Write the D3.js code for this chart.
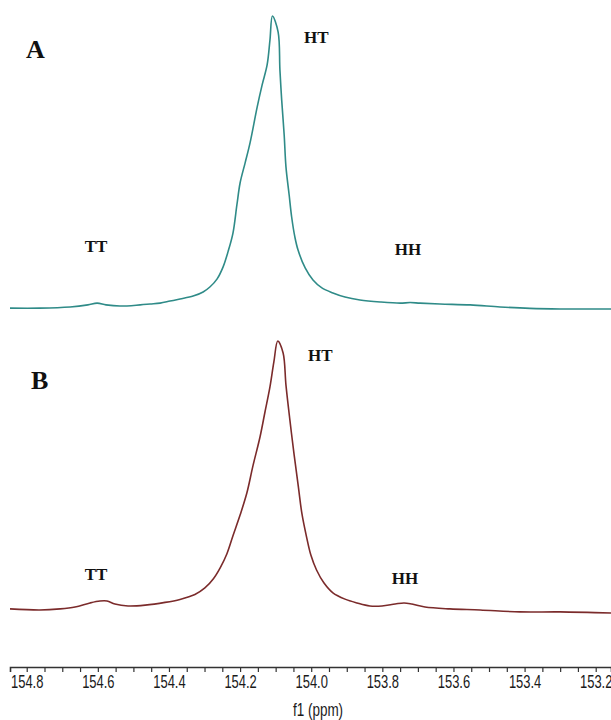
<!DOCTYPE html>
<html>
<head>
<meta charset="utf-8">
<script src="https://cdn.jsdelivr.net/npm/d3@7"></script>
<style>
  body { margin: 0; background: #fff; }
  .tag { font-family: "Liberation Serif", "Times New Roman", serif; font-weight: bold; fill: #111; }
  .axis text { font-family: "Liberation Sans", Arial, sans-serif; fill: #1a1a1a; }
</style>
</head>
<body>
<div id="chart"></div>
<script>
// spectrum A (teal) - chemical shift (ppm) and relative intensity
var ppmA = [154.847, 154.763, 154.678, 154.628, 154.602, 154.577, 154.538, 154.481, 154.453, 154.425,
  154.397, 154.369, 154.332, 154.304, 154.285, 154.265, 154.248, 154.234, 154.220, 154.209,
  154.200, 154.186, 154.172, 154.152, 154.138, 154.124, 154.116, 154.109, 154.093, 154.088,
  154.083, 154.076, 154.071, 154.062, 154.055, 154.046, 154.037, 154.017, 153.995, 153.970,
  153.939, 153.905, 153.863, 153.806, 153.750, 153.722, 153.694, 153.638, 153.553, 153.469,
  153.385, 153.300, 153.157]
var intA = [0.3, 0.3, 0.7, 1.4, 2.0, 1.4, 1.0, 1.4, 1.7, 2.0,
  2.7, 3.4, 4.4, 5.8, 7.5, 10.2, 14.3, 19.5, 25.9, 35.5,
  43.0, 49.8, 56.7, 68.9, 76.5, 83.3, 91.8, 100, 94.5, 81.6,
  71.3, 59.4, 48.5, 38.9, 31.4, 24.6, 20.1, 14.0, 9.9, 7.2,
  5.5, 4.1, 3.1, 2.4, 2.0, 2.2, 2.0, 1.7, 1.4, 0.7,
  0.2, 0, 0]

// spectrum B (dark red)
var ppmB = [154.847, 154.763, 154.706, 154.664, 154.622, 154.594, 154.574, 154.552, 154.515, 154.467,
  154.411, 154.369, 154.327, 154.299, 154.275, 154.256, 154.237, 154.220, 154.200, 154.181,
  154.164, 154.144, 154.130, 154.116, 154.105, 154.094, 154.079, 154.071, 154.060, 154.048,
  154.036, 154.026, 154.013, 154.001, 153.985, 153.964, 153.939, 153.905, 153.871, 153.835,
  153.801, 153.764, 153.739, 153.717, 153.680, 153.610, 153.525, 153.413, 153.300, 153.157]
var intB = [1.5, 1.1, 1.5, 2.2, 3.7, 4.4, 4.4, 3.3, 2.6, 2.9,
  3.9, 5.0, 6.8, 9.2, 12.6, 16.6, 21.8, 28.4, 36.0, 44.1,
  54.0, 64.7, 73.9, 83.1, 92.3, 100, 95.6, 83.8, 71.0, 58.1,
  46.3, 36.4, 27.9, 21.3, 15.8, 11.0, 7.4, 5.1, 3.7, 2.6,
  2.6, 3.3, 3.7, 3.3, 2.2, 1.5, 1.1, 0.4, 0.4, 0]

var tickValues = d3.range(0, 33).map(i => +(153.2 + i * 0.05).toFixed(2))
var labelTicks = [154.8, 154.6, 154.4, 154.2, 154.0, 153.8, 153.6, 153.4, 153.2]

var svg_width = 611
var svg_height = 720

var svg = d3.select("#chart")
  .append("svg")
  .attr("width", svg_width)
  .attr("height", svg_height)

// NMR axis runs from high ppm (left) to low ppm (right)
var x_scale = d3.scaleLinear()
  .domain([154.847, 153.157])
  .range([10, 611])

var yA = d3.scaleLinear().domain([0, 100]).range([309, 16])
var yB = d3.scaleLinear().domain([0, 100]).range([613, 341])

function drawTrace(ppm, ints, yscale, colour) {
  var pts = ppm.map((p, i) => [p, ints[i]])
  var line = d3.line()
    .x(d => x_scale(d[0]))
    .y(d => yscale(d[1]))
    .curve(d3.curveCatmullRom.alpha(0.5))
  svg.append("path")
    .datum(pts)
    .attr("d", line)
    .attr("fill", "none")
    .attr("stroke", colour)
    .attr("stroke-width", 1.6)
    .attr("stroke-linejoin", "round")
}

drawTrace(ppmA, intA, yA, "#2f8b88")
drawTrace(ppmB, intB, yB, "#7b2b2b")

// panel and peak labels
function tag(txt, x, y, size, anchor) {
  svg.append("text")
    .attr("class", "tag")
    .attr("x", x)
    .attr("y", y)
    .attr("text-anchor", anchor || "start")
    .style("font-size", size + "px")
    .text(txt)
}

tag("A", 26, 58, 26)
tag("B", 31, 389, 26)
tag("HT", 304, 43, 17)
tag("HT", 308, 361, 17)
tag("TT", 96, 252, 17, "middle")
tag("HH", 408, 255, 17, "middle")
tag("TT", 96, 580, 17, "middle")
tag("HH", 405, 584, 17, "middle")

// x axis
var bottom_axis = d3.axisBottom(x_scale)
  .tickValues(tickValues)
  .tickSizeOuter(0)
  .tickSize(5)
  .tickFormat(d => labelTicks.some(v => Math.abs(v - d) < 1e-6) ? d3.format(".1f")(d) : "")

var x_axis = svg.append("g")
  .attr("class", "axis")
  .attr("transform", "translate(0, 667)")
  .call(bottom_axis)

x_axis.select(".domain").attr("stroke", "#333").attr("stroke-width", 1.6)
x_axis.selectAll(".tick line").attr("stroke", "#333").attr("stroke-width", 1.2)
// condensed look of the original tick labels
x_axis.selectAll(".tick text")
  .attr("y", 8)
  .attr("transform", "scale(0.72,1)")
  .style("font-size", "18px")

svg.append("text")
  .attr("transform", "translate(318,716) scale(0.75,1)")
  .attr("text-anchor", "middle")
  .style("font-family", "'Liberation Sans', Arial, sans-serif")
  .style("font-size", "18px")
  .style("fill", "#1a1a1a")
  .text("f1 (ppm)")
</script>
</body>
</html>
